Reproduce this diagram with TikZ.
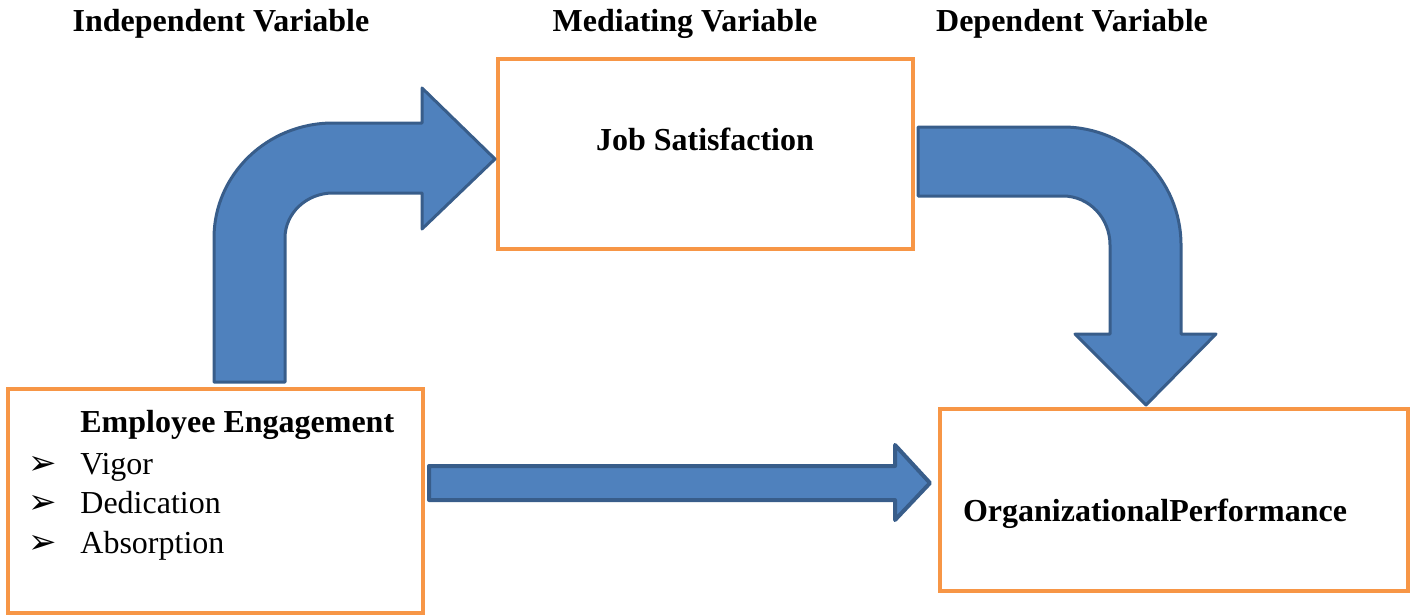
\documentclass[tikz,border=0pt]{standalone}
\usepackage{fontspec}
\setmainfont{Liberation Serif}
\newfontfamily\symfont{DejaVu Sans}
\definecolor{boxorange}{HTML}{F79646}
\definecolor{arrfill}{HTML}{4F81BD}
\definecolor{arrline}{HTML}{385D8A}
\begin{document}
\begin{tikzpicture}[x=0.5pt,y=-0.5pt,
  varbox/.style={draw=boxorange,line width=2pt,fill=white},
  blockarrow/.style={fill=arrfill,draw=arrline,line width=1.5pt,line join=round},
  txt/.style={font=\fontsize{16}{19}\selectfont,inner sep=0pt,anchor=base},
  head/.style={txt,font=\fontsize{16}{19}\selectfont\bfseries},
  bul/.style={font=\symfont\fontsize{17}{20}\selectfont,inner sep=0pt,anchor=base}]
\useasboundingbox (0,0) rectangle (1411,615);
% headings
\node[head] (hIV) at (221,32) {Independent Variable};
\node[head] (hMV) at (685,32) {Mediating Variable};
\node[head] (hDV) at (1072,32) {Dependent Variable};
% boxes
\draw[varbox] (498,59) rectangle (913,249);
\coordinate (js) at (705,150);
\node[head] (jsText) at (js) {Job Satisfaction};
\draw[varbox] (8,389) rectangle (423,613);
\node[head,anchor=base west] (ee) at (80,432) {Employee Engagement};
\node[bul] (b1) at (43,474) {➢};
\node[txt,anchor=base west] (t1) at (80,474) {Vigor};
\node[bul] (b2) at (43,513) {➢};
\node[txt,anchor=base west] (t2) at (80,513) {Dedication};
\node[bul] (b3) at (43,553) {➢};
\node[txt,anchor=base west] (t3) at (80,553) {Absorption};
\draw[varbox] (940,409) rectangle (1408,591);
\node[head] (op) at (1155,521) {OrganizationalPerformance};
% bent up-right arrow
\draw[blockarrow] (214,382) -- (214,238)
  arc[start angle=180,end angle=270,x radius=119,y radius=115]
  -- (422,123) -- (422,88) -- (495,159) -- (422,229) -- (422,193) -- (333,193)
  arc[start angle=270,end angle=180,x radius=48,y radius=45]
  -- (285,382) -- cycle;
% bent right-down arrow
\draw[blockarrow] (918,127) -- (1063,127)
  arc[start angle=270,end angle=360,x radius=118,y radius=118]
  -- (1181,334) -- (1216,334) -- (1146,405) -- (1075,334) -- (1110,334) -- (1110,245)
  arc[start angle=0,end angle=-90,x radius=47,y radius=49]
  -- (918,196) -- cycle;
% straight arrow
\draw[blockarrow,line width=2pt] (429,466) -- (895,466) -- (895,445) -- (930,483)
  -- (895,520) -- (895,500) -- (429,500) -- cycle;
\end{tikzpicture}
\end{document}
